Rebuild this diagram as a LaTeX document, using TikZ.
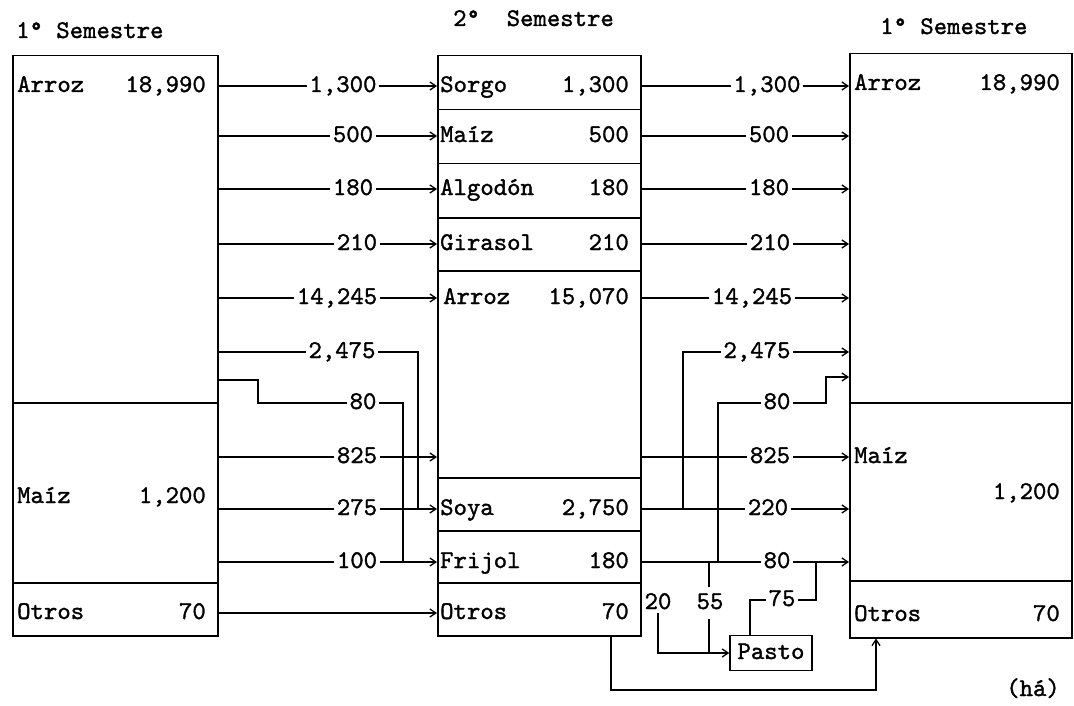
\documentclass[tikz,border=0pt]{standalone}
\usepackage{fontspec}
\newfontfamily\twfont{lmmono10-regular.otf}[FakeBold=1.3]
\usetikzlibrary{arrows.meta}
\begin{document}
\begin{tikzpicture}[x=1pt,y=-1pt,
 txt/.style={font=\twfont\fontsize{25.5}{28}\selectfont, inner sep=0pt, text height=16pt, text depth=4pt},
 lbl/.style={txt, fill=white, inner xsep=3pt, inner ysep=1pt},
 box/.style={draw, line width=1.5pt, inner sep=0pt, anchor=north west},
 con/.style={line width=1.3pt},
 arr/.style={con, -{Straight Barb[length=6pt,width=8pt]}}]
\useasboundingbox (0,0) rectangle (1074,706);
% rows
\coordinate (r1) at (0,86);
\coordinate (r2) at (0,136);
\coordinate (r3) at (0,189);
\coordinate (r4) at (0,244);
\coordinate (r5) at (0,298);
\coordinate (r6) at (0,352);
\coordinate (r7a) at (0,380);
\coordinate (r7b) at (0,377);
\coordinate (r7) at (0,403);
\coordinate (r8) at (0,457);
\coordinate (r9) at (0,509);
\coordinate (r10) at (0,562);
\coordinate (r11) at (0,613);
\coordinate (r75) at (0,600);
\coordinate (yb) at (0,690);
% columns for elbows
\coordinate (xa) at (418,0);
\coordinate (xb) at (258,0);
\coordinate (xc) at (403,0);
\coordinate (xd) at (683,0);
\coordinate (xe) at (718,0);
\coordinate (xf) at (826,0);
\coordinate (x55) at (709,0);
\coordinate (x75a) at (750,0);
\coordinate (xg) at (816,0);
\coordinate (xo) at (611,0);
\coordinate (xp) at (876,0);
% headers
\node[txt,anchor=west] (hL) at (16,32) {1° Semestre};
\node[txt,anchor=west] (hM) at (453,20) {2°\ \ Semestre};
\node[txt,anchor=west] (hR) at (880,28) {1° Semestre};
% left column
\node[box, minimum width=205pt, minimum height=347pt] (LA) at (12,55) {};
\node[box, minimum width=205pt, minimum height=180pt] (LM) at (12,402) {};
\node[box, minimum width=205pt, minimum height=53pt] (LO) at (12,582) {};
\node[txt,anchor=west] (tLA) at (17,86) {Arroz};
\node[txt,anchor=east] (vLA) at (206,86) {18,990};
\node[txt,anchor=west] (tLM) at (17,497) {Maíz};
\node[txt,anchor=east] (vLM) at (206,497) {1,200};
\node[txt,anchor=west] (tLO) at (17,613) {Otros};
\node[txt,anchor=east] (vLO) at (206,613) {70};
% middle column
\node[box, minimum width=203pt, minimum height=54pt] (MS) at (437,55) {};
\node[box, minimum width=203pt, minimum height=54pt] (MM) at (437,109) {};
\node[box, minimum width=203pt, minimum height=54pt] (MAl) at (437,163) {};
\node[box, minimum width=203pt, minimum height=53pt] (MG) at (437,217) {};
\node[box, minimum width=203pt, minimum height=207pt] (MA) at (437,270) {};
\node[box, minimum width=203pt, minimum height=53pt] (MSo) at (437,477) {};
\node[box, minimum width=203pt, minimum height=52pt] (MF) at (437,530) {};
\node[box, minimum width=203pt, minimum height=53pt] (MO) at (437,582) {};
\node[txt,anchor=west] (tMS) at (440,86) {Sorgo};
\node[txt,anchor=east] (vMS) at (629,86) {1,300};
\node[txt,anchor=west] (tMM) at (440,136) {Maíz};
\node[txt,anchor=east] (vMM) at (629,136) {500};
\node[txt,anchor=west] (tMAl) at (440,189) {Algodón};
\node[txt,anchor=east] (vMAl) at (629,189) {180};
\node[txt,anchor=west] (tMG) at (440,244) {Girasol};
\node[txt,anchor=east] (vMG) at (629,244) {210};
\node[txt,anchor=west] (tMA) at (443,298) {Arroz};
\node[txt,anchor=east] (vMA) at (629,298) {15,070};
\node[txt,anchor=west] (tMSo) at (440,509) {Soya};
\node[txt,anchor=east] (vMSo) at (629,509) {2,750};
\node[txt,anchor=west] (tMF) at (440,562) {Frijol};
\node[txt,anchor=east] (vMF) at (629,562) {180};
\node[txt,anchor=west] (tMO) at (440,613) {Otros};
\node[txt,anchor=east] (vMO) at (629,613) {70};
% right column
\node[box, minimum width=222pt, minimum height=349pt] (RA) at (849,53) {};
\node[box, minimum width=222pt, minimum height=178pt] (RM) at (849,402) {};
\node[box, minimum width=222pt, minimum height=57pt] (RO) at (849,580) {};
\node[txt,anchor=west] (tRA) at (854,84) {Arroz};
\node[txt,anchor=east] (vRA) at (1060,84) {18,990};
\node[txt,anchor=west] (tRM) at (854,457) {Maíz};
\node[txt,anchor=east] (vRM) at (1060,493) {1,200};
\node[txt,anchor=west] (tRO) at (854,615) {Otros};
\node[txt,anchor=east] (vRO) at (1060,615) {70};
\node[txt] (unit) at (1033,690) {(há)};
% Pasto
\node[txt, draw, line width=1.4pt, minimum width=82pt, minimum height=35pt] (P) at (771,653) {Pasto};
\node[txt] (l20) at (658,603) {20};
% left connectors
\draw[arr] (LA.east |- r1) -- (MS.west |- r1);
\draw[arr] (LA.east |- r2) -- (MM.west |- r2);
\draw[arr] (LA.east |- r3) -- (MAl.west |- r3);
\draw[arr] (LA.east |- r4) -- (MG.west |- r4);
\draw[arr] (LA.east |- r5) -- (MA.west |- r5);
\draw[con] (LA.east |- r6) -| (xa |- r9);
\draw[con] (LA.east |- r7a) -| (xb |- r7) -| (xc |- r10);
\draw[arr] (LM.east |- r8) -- (MA.west |- r8);
\draw[arr] (LM.east |- r9) -- (MSo.west |- r9);
\draw[arr] (LM.east |- r10) -- (MF.west |- r10);
\draw[arr] (LO.east |- r11) -- (MO.west |- r11);
% right connectors
\draw[arr] (MS.east |- r1) -- (RA.west |- r1);
\draw[arr] (MM.east |- r2) -- (RA.west |- r2);
\draw[arr] (MAl.east |- r3) -- (RA.west |- r3);
\draw[arr] (MG.east |- r4) -- (RA.west |- r4);
\draw[arr] (MA.east |- r5) -- (RA.west |- r5);
\draw[arr] (xd |- r9) |- (RA.west |- r6);
\draw[arr] (xe |- r10) |- (xf |- r7) |- (RA.west |- r7b);
\draw[arr] (MA.east |- r8) -- (RM.west |- r8);
\draw[arr] (MSo.east |- r9) -- (RM.west |- r9);
\draw[arr] (MF.east |- r10) -- (RM.west |- r10);
% bottom connectors
\draw[con] (x55 |- r10) -- (x55 |- P.west);
\draw[arr] (l20.south) |- (P.west);
\draw[con] (P.north -| x75a) |- (xg |- r75) -- (xg |- r10);
\draw[arr] (MO.south -| xo) |- (xp |- yb) -- (RO.south -| xp);
% labels
\node[lbl] (l1) at (343,86) {1,300};
\node[lbl] (l2) at (353,136) {500};
\node[lbl] (l3) at (353,189) {180};
\node[lbl] (l4) at (357,244) {210};
\node[lbl] (l5) at (337,298) {14,245};
\node[lbl] (l6) at (342,352) {2,475};
\node[lbl] (l7) at (363,403) {80};
\node[lbl] (l8) at (357,457) {825};
\node[lbl] (l9) at (357,509) {275};
\node[lbl] (l10) at (357,562) {100};
\node[lbl] (m1) at (767,86) {1,300};
\node[lbl] (m2) at (769,136) {500};
\node[lbl] (m3) at (769,189) {180};
\node[lbl] (m4) at (770,244) {210};
\node[lbl] (m5) at (752,298) {14,245};
\node[lbl] (m6) at (757,352) {2,475};
\node[lbl] (m7) at (777,403) {80};
\node[lbl] (m8) at (770,457) {825};
\node[lbl] (m9) at (768,509) {220};
\node[lbl] (m10) at (777,562) {80};
\node[lbl, inner ysep=6pt] (l55) at (710,603) {55};
\node[lbl] (l75) at (782,600) {75};
\end{tikzpicture}
\end{document}
